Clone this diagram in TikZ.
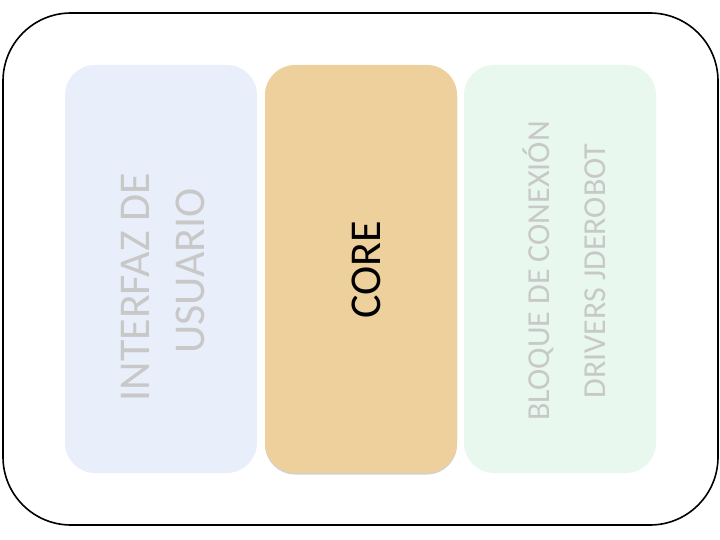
\documentclass[tikz,border=0pt]{standalone}
\usepackage{fontspec}
\setmainfont{Carlito}
\definecolor{uiFill}{RGB}{233,239,250}
\definecolor{coreFill}{RGB}{237,208,156}
\definecolor{drvFill}{RGB}{232,248,239}
\definecolor{softText}{RGB}{200,200,200}
\tikzset{
  block/.style={rounded corners=30pt, minimum width=192pt, minimum height=408pt, inner sep=0pt},
  bigtext/.style={rotate=90, align=center, font=\fontsize{44}{55}\selectfont, inner sep=0pt},
  smalltext/.style={rotate=90, align=center, font=\fontsize{32}{56}\selectfont, inner sep=0pt}
}
\begin{document}
\begin{tikzpicture}[x=1pt,y=-1pt]
\useasboundingbox (0,0) rectangle (720,540);
\node[draw=black, line width=1.6pt, rounded corners=68pt, minimum width=715pt, minimum height=512pt, inner sep=0pt] (outer) at (360.5,269) {};
\node[block, fill=uiFill] (ui) at (161,269) {};
\node[block, fill=black!18] (coreshadow) at (361,270.5) {};
\node[block, fill=coreFill] (core) at (361,269) {};
\node[block, fill=drvFill] (drv) at (560,269) {};
\node[bigtext, text=softText] (uitext) at (163,271) {INTERFAZ DE\hspace*{32pt}\\USUARIO};
\node[bigtext, text=black] (coretext) at (366,270) {CORE};
\node[smalltext, text=softText] (drvtext) at (564,271) {BLOQUE DE CONEXIÓN\\DRIVERS JDEROBOT};
\end{tikzpicture}
\end{document}
